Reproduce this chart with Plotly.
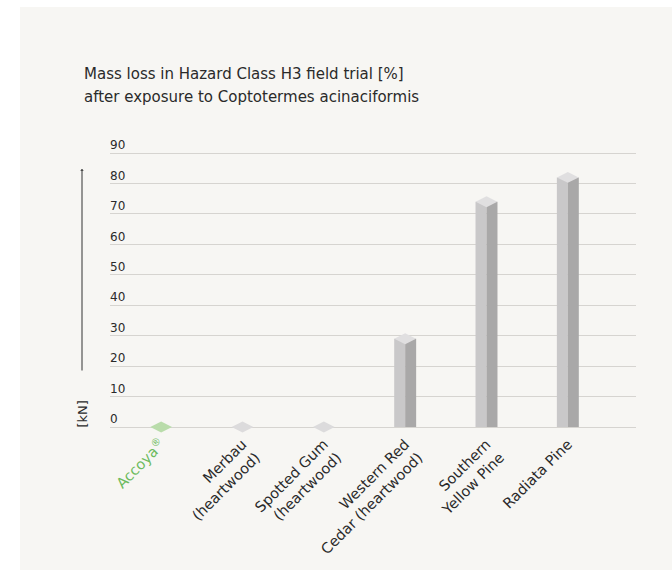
import plotly.graph_objects as go

# ---------------- data ----------------
categories = ["Accoya", "Merbau (heartwood)", "Spotted Gum (heartwood)",
              "Western Red Cedar (heartwood)", "Southern Yellow Pine", "Radiata Pine"]
tick_labels = [
    '<span style="color:#6dbb5e">Accoya<sup>®</sup></span>',
    "Merbau<br>(heartwood)",
    "Spotted Gum<br>(heartwood)",
    "Western Red<br>Cedar (heartwood)",
    "Southern<br>Yellow Pine",
    "Radiata Pine",
]
mass_loss = [0, 0, 0, 29, 74, 82]
y_ticks = [0, 10, 20, 30, 40, 50, 60, 70, 80, 90]
title_lines = ["Mass loss in Hazard Class H3 field trial [%]",
               "after exposure to Coptotermes acinaciformis"]
y_unit = "[kN]"

# ---------------- style ----------------
W, H = 672, 572
ML, MR, MT, MB = 110, 36, 140, 140
PW, PH = W - ML - MR, H - MT - MB
FONT = "'DejaVu Sans', 'Open Sans', sans-serif"
TXT = "#2a2a2a"
LEFT_C, RIGHT_C, TOP_C = "#c9c8c9", "#a9a8a8", "#e0dfe0"
ZERO_C = "#dcdbdc"
ACC_C = "#b9dcaa"
half_w = 0.135
PXU = 3.044  # pixels per unit on y

x_range = [-0.629, 5.838]
y_bottom = -(MT + PH - 427) / PXU
y_range = [y_bottom, y_bottom + PH / PXU]

def px_x(p):
    return (p - ML) / PW

def px_y(p):
    return (MT + PH - p) / PH

idx = list(range(len(categories)))

fig = go.Figure()

bar_vals = [v if v > 0 else None for v in mass_loss]
fig.add_trace(go.Bar(x=idx, y=bar_vals, width=half_w, offset=-half_w,
                     marker=dict(color=LEFT_C, line=dict(width=0)),
                     hoverinfo="skip", showlegend=False))
fig.add_trace(go.Bar(x=idx, y=bar_vals, width=half_w, offset=0,
                     marker=dict(color=RIGHT_C, line=dict(width=0)),
                     hoverinfo="skip", showlegend=False))

top_colors = []
for i, v in enumerate(mass_loss):
    if i == 0:
        top_colors.append(ACC_C)
    elif v == 0:
        top_colors.append(ZERO_C)
    else:
        top_colors.append(TOP_C)

fig.add_trace(go.Scatter(x=idx, y=mass_loss, mode="markers", cliponaxis=False,
                         marker=dict(symbol="diamond-wide", size=15.5,
                                     color=top_colors, line=dict(width=0)),
                         hoverinfo="skip", showlegend=False))

# panel background
fig.add_shape(type="rect", xref="paper", yref="paper",
              x0=px_x(20), x1=px_x(672), y0=px_y(570), y1=px_y(7),
              fillcolor="#f7f6f3", line=dict(width=0), layer="below")

# title
fig.add_annotation(text=title_lines[0], xref="paper", yref="paper",
                   x=px_x(82), y=px_y(74), xanchor="left", yanchor="middle",
                   showarrow=False, font=dict(size=15, color=TXT, family=FONT))
fig.add_annotation(text=title_lines[1], xref="paper", yref="paper",
                   x=px_x(82), y=px_y(97.5), xanchor="left", yanchor="middle",
                   showarrow=False, font=dict(size=15, color=TXT, family=FONT))

# axis arrow and unit
fig.add_annotation(text="", xref="paper", yref="paper",
                   x=px_x(82), y=px_y(169), ax=0, ay=203,
                   showarrow=True, arrowhead=1, arrowsize=0.6, arrowwidth=1,
                   arrowcolor="#333333")
fig.add_annotation(text=y_unit, xref="paper", yref="paper",
                   x=px_x(82), y=px_y(414.5), textangle=-90,
                   xanchor="center", yanchor="middle", showarrow=False,
                   font=dict(size=13, color=TXT, family=FONT))

fig.update_layout(
    width=W, height=H,
    margin=dict(l=ML, r=MR, t=MT, b=MB),
    paper_bgcolor="white",
    plot_bgcolor="rgba(0,0,0,0)",
    barmode="overlay",
    font=dict(family=FONT, color=TXT),
    showlegend=False,
    xaxis=dict(range=x_range, tickmode="array", tickvals=idx, ticktext=tick_labels,
               tickangle=-45, showgrid=False, zeroline=False, showline=False,
               ticks="", automargin=False,
               tickfont=dict(size=14.5, color=TXT, family=FONT)),
    yaxis=dict(range=y_range, tickmode="array", tickvals=y_ticks,
               ticklabelposition="inside", ticklabelshift=-8, ticklabelstandoff=-3,
               ticklabeloverflow="allow", automargin=False,
               showgrid=True, gridcolor="#d6d4d0", gridwidth=1.2,
               zeroline=False, showline=False, ticks="",
               tickfont=dict(size=12, color=TXT, family=FONT)),
)

fig.write_html("out.html", config={"displayModeBar": False},
               post_script="document.body.style.margin='0';document.body.style.padding='0';")
